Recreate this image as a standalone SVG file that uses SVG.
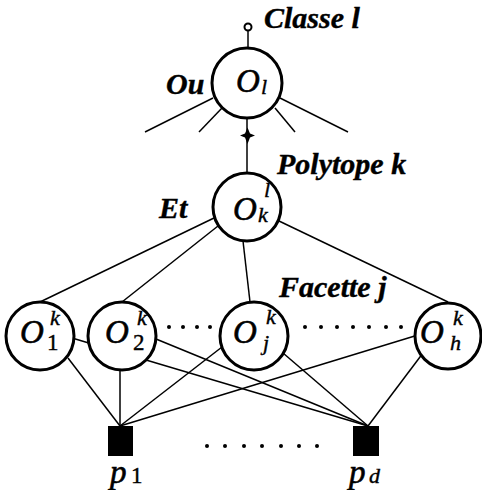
<svg xmlns="http://www.w3.org/2000/svg" width="482" height="490" viewBox="0 0 482 490" font-family="Liberation Serif, serif">
<style>
.ln{stroke:#000;stroke-width:1.5;fill:none}
.nd{fill:#fff;stroke:#000;stroke-width:3}
.lb{font-weight:bold;font-style:italic;font-size:30px;stroke:#000;stroke-width:0.4}
.o{font-style:italic;font-size:33px;stroke:#000;stroke-width:0.6}
.s{font-style:italic;font-size:22px;stroke:#000;stroke-width:0.4}
.su{font-size:23px;stroke:#000;stroke-width:0.4}
.dot{fill:#000}
</style>
<g id="connectors">
<line class="ln" x1="248" y1="31" x2="248" y2="48"/>
<line class="ln" x1="213" y1="98" x2="145" y2="132"/>
<line class="ln" x1="222" y1="108" x2="199" y2="132"/>
<line class="ln" x1="275" y1="108" x2="295" y2="132"/>
<line class="ln" x1="280" y1="98" x2="348" y2="132"/>
<line class="ln" x1="247" y1="118" x2="247" y2="172"/>
<path d="M247.5,127.5 L250,133.5 L255,135.5 L250,137.5 L247.5,144 L245,137.5 L240,135.5 L245,133.5 Z" fill="#000"/>
<line class="ln" x1="214" y1="218" x2="40" y2="302"/>
<line class="ln" x1="218" y1="226" x2="122" y2="302"/>
<line class="ln" x1="243" y1="241" x2="250" y2="302"/>
<line class="ln" x1="279" y1="221" x2="448" y2="302"/>
<line class="ln" x1="68" y1="358" x2="120" y2="426"/>
<line class="ln" x1="120" y1="368" x2="120" y2="426"/>
<line class="ln" x1="222" y1="347" x2="120" y2="426"/>
<line class="ln" x1="418" y1="335" x2="120" y2="426"/>
<line class="ln" x1="72" y1="338" x2="368" y2="426"/>
<line class="ln" x1="156" y1="339" x2="368" y2="426"/>
<line class="ln" x1="283" y1="353" x2="368" y2="426"/>
<line class="ln" x1="423" y1="353" x2="368" y2="426"/>
</g>
<g id="dots">
<circle class="dot" cx="169" cy="327" r="2"/>
<circle class="dot" cx="183" cy="327" r="2"/>
<circle class="dot" cx="197" cy="327" r="2"/>
<circle class="dot" cx="210" cy="327" r="2"/>
<circle class="dot" cx="305" cy="327" r="2"/>
<circle class="dot" cx="321" cy="327" r="2"/>
<circle class="dot" cx="337" cy="327" r="2"/>
<circle class="dot" cx="353" cy="327" r="2"/>
<circle class="dot" cx="369" cy="327" r="2"/>
<circle class="dot" cx="386" cy="327" r="2"/>
<circle class="dot" cx="401" cy="327" r="2"/>
<circle class="dot" cx="207" cy="446" r="2"/>
<circle class="dot" cx="225" cy="446" r="2"/>
<circle class="dot" cx="244" cy="446" r="2"/>
<circle class="dot" cx="262" cy="446" r="2"/>
<circle class="dot" cx="281" cy="446" r="2"/>
<circle class="dot" cx="299" cy="446" r="2"/>
<circle class="dot" cx="317" cy="446" r="2"/>
</g>
<g id="classe">
<circle cx="248" cy="27" r="3.5" fill="#fff" stroke="#000" stroke-width="2"/>
<text class="lb" x="264" y="28" font-family="Liberation Serif, serif">Classe l</text>
</g>
<g id="node-Ol">
<circle class="nd" cx="247" cy="83" r="35"/>
<text class="o" x="236" y="92" font-family="Liberation Serif, serif">O</text>
<text class="s" x="261" y="94" font-family="Liberation Serif, serif">l</text>
<text class="lb" x="166" y="94" font-family="Liberation Serif, serif">Ou</text>
</g>
<g id="node-Ok">
<circle class="nd" cx="247" cy="207" r="34"/>
<text class="o" x="233" y="220" font-family="Liberation Serif, serif">O</text>
<text class="s" x="264" y="197" font-family="Liberation Serif, serif">l</text>
<text class="s" x="258" y="222" font-family="Liberation Serif, serif">k</text>
<text class="lb" x="277" y="174" font-family="Liberation Serif, serif">Polytope k</text>
<text class="lb" x="159" y="218" font-family="Liberation Serif, serif">Et</text>
</g>
<g id="node-O1">
<circle class="nd" cx="40" cy="336" r="34"/>
<text class="o" x="20" y="343" font-family="Liberation Serif, serif">O</text>
<text class="s" x="50" y="325" font-family="Liberation Serif, serif">k</text>
<text class="su" x="47" y="350" font-family="Liberation Serif, serif">1</text>
</g>
<g id="node-O2">
<circle class="nd" cx="122" cy="336" r="34"/>
<text class="o" x="105" y="343" font-family="Liberation Serif, serif">O</text>
<text class="s" x="137" y="325" font-family="Liberation Serif, serif">k</text>
<text class="su" x="133" y="350" font-family="Liberation Serif, serif">2</text>
</g>
<g id="node-Oj">
<circle class="nd" cx="254" cy="336" r="34"/>
<text class="o" x="233" y="343" font-family="Liberation Serif, serif">O</text>
<text class="s" x="266" y="324" font-family="Liberation Serif, serif">k</text>
<text class="s" x="263" y="350" font-family="Liberation Serif, serif">j</text>
<text class="lb" x="279" y="297" font-family="Liberation Serif, serif">Facette j</text>
</g>
<g id="node-Oh">
<circle class="nd" cx="448" cy="336" r="33"/>
<text class="o" x="420" y="343" font-family="Liberation Serif, serif">O</text>
<text class="s" x="453" y="325" font-family="Liberation Serif, serif">k</text>
<text class="s" x="450" y="350" font-family="Liberation Serif, serif">h</text>
</g>
<g id="node-p1">
<rect x="108" y="426" width="25" height="30" fill="#000"/>
<text class="o" x="110" y="483" font-family="Liberation Serif, serif">p</text>
<text class="su" x="131" y="483" font-family="Liberation Serif, serif">1</text>
</g>
<g id="node-pd">
<rect x="353" y="426" width="26" height="30" fill="#000"/>
<text class="o" x="349" y="483" font-family="Liberation Serif, serif">p</text>
<text class="s" x="369" y="483" font-family="Liberation Serif, serif">d</text>
</g>
</svg>
